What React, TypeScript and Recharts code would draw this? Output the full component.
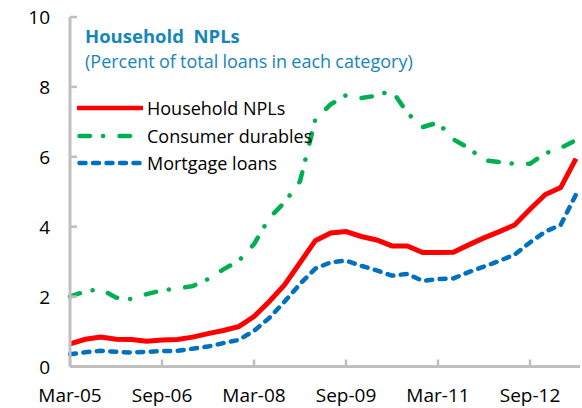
import React from 'react';
import { LineChart, Line, XAxis, YAxis, Legend } from 'recharts';

const quarters = [
  'Mar-05', 'Jun-05', 'Sep-05', 'Dec-05', 'Mar-06', 'Jun-06', 'Sep-06', 'Dec-06',
  'Mar-07', 'Jun-07', 'Sep-07', 'Dec-07', 'Mar-08', 'Jun-08', 'Sep-08', 'Dec-08',
  'Mar-09', 'Jun-09', 'Sep-09', 'Dec-09', 'Mar-10', 'Jun-10', 'Sep-10', 'Dec-10',
  'Mar-11', 'Jun-11', 'Sep-11', 'Dec-11', 'Mar-12', 'Jun-12', 'Sep-12', 'Dec-12',
  'Mar-13', 'Jun-13',
];

const householdNpls = [
  0.65, 0.78, 0.84, 0.78, 0.77, 0.72, 0.76, 0.77, 0.84, 0.94, 1.03, 1.14,
  1.43, 1.86, 2.34, 2.97, 3.6, 3.82, 3.86, 3.72, 3.62, 3.45, 3.45, 3.26,
  3.26, 3.27, 3.48, 3.68, 3.86, 4.05, 4.5, 4.92, 5.12, 5.95,
];

const consumerDurables = [
  2.0, 2.15, 2.22, 1.97, 1.93, 2.07, 2.18, 2.23, 2.3, 2.5, 2.78, 3.02,
  3.5, 4.25, 4.7, 5.3, 7.07, 7.5, 7.76, 7.68, 7.75, 7.9, 7.25, 6.85,
  6.98, 6.5, 6.25, 5.9, 5.85, 5.8, 5.8, 6.1, 6.25, 6.48,
];

const mortgageLoans = [
  0.35, 0.41, 0.45, 0.42, 0.4, 0.42, 0.44, 0.45, 0.51, 0.57, 0.67, 0.76,
  1.02, 1.39, 1.86, 2.36, 2.8, 2.98, 3.03, 2.88, 2.75, 2.6, 2.65, 2.45,
  2.5, 2.52, 2.7, 2.86, 3.02, 3.2, 3.55, 3.86, 4.05, 4.92,
];

const yTicks = [0, 2, 4, 6, 8, 10];
const seriesOrder = ['household', 'consumer', 'mortgage'];

const data = quarters.map((q, i) => ({
  q,
  household: householdNpls[i],
  consumer: consumerDurables[i],
  mortgage: mortgageLoans[i],
}));

const FONT = '"Open Sans", sans-serif';
const AXIS = '#bfbfbf';

const dashes: Record<string, string | undefined> = {
  household: undefined,
  consumer: '10.5 13 0.1 16.4',
  mortgage: '6 7.5',
};

const XTick = (props: any) => {
  const { x, y, payload } = props;
  return (
    <g>
      <line x1={x} y1={y} x2={x} y2={y - 7} stroke={AXIS} strokeWidth={2.5} />
      <text x={x} y={y + 35} textAnchor="middle" fontFamily={FONT} fontSize={19} fill="#000">
        {payload.value}
      </text>
    </g>
  );
};

const YTick = (props: any) => {
  const { x, y, payload } = props;
  return (
    <g>
      <line x1={x} y1={y} x2={x + 7} y2={y} stroke={AXIS} strokeWidth={2.5} />
      <text x={x - 20} y={y + 7} textAnchor="end" fontFamily={FONT} fontSize={19} fill="#000">
        {payload.value}
      </text>
    </g>
  );
};

const LegendBox = (props: any) => {
  const items = [...(props.payload || [])].sort(
    (a: any, b: any) => seriesOrder.indexOf(a.dataKey) - seriesOrder.indexOf(b.dataKey)
  );
  return (
    <div style={{ fontFamily: FONT, fontSize: 18, color: '#000' }}>
      {items.map((p: any) => (
        <div key={p.dataKey} style={{ display: 'flex', alignItems: 'center', height: 27.5 }}>
          <svg width={70} height={10} style={{ flex: 'none' }}>
            <line
              x1={p.dataKey === 'household' ? 0 : 2.5}
              y1={5}
              x2={p.dataKey === 'household' ? 66 : 64}
              y2={5}
              stroke={p.color}
              strokeWidth={4.5}
              strokeLinecap={p.dataKey === 'household' ? 'butt' : 'round'}
              strokeDasharray={dashes[p.dataKey]}
            />
          </svg>
          <span style={{ whiteSpace: 'nowrap' }}>{p.value}</span>
        </div>
      ))}
    </div>
  );
};

export default function App() {
  return (
    <div style={{ position: 'absolute', left: 0, top: 0, width: 582, height: 408, background: '#fff' }}>
      <LineChart width={582} height={408} data={data} margin={{ top: 17, right: 2, bottom: 11.5, left: 0 }}>
        <XAxis
          dataKey="q"
          interval={5}
          height={30}
          padding={{ left: 0, right: 4 }}
          axisLine={{ stroke: AXIS, strokeWidth: 3 }}
          tickLine={false}
          tickSize={0}
          tickMargin={0}
          tick={<XTick />}
        />
        <XAxis xAxisId="top" dataKey="q" orientation="top" height={0} tick={false} tickLine={false}
          axisLine={{ stroke: AXIS, strokeWidth: 3 }} />
        <YAxis
          domain={[0, 10]}
          ticks={yTicks}
          width={70}
          axisLine={{ stroke: AXIS, strokeWidth: 3 }}
          tickLine={false}
          tickSize={0}
          tickMargin={0}
          tick={<YTick />}
        />
        <YAxis yAxisId="right" orientation="right" width={0} domain={[0, 10]} tick={false} tickLine={false}
          axisLine={{ stroke: AXIS, strokeWidth: 3 }} />
        <Legend
          layout="horizontal"
          verticalAlign="middle"
          align="center"
          content={<LegendBox />}
          wrapperStyle={{ position: 'absolute', left: 77, top: 94.5, width: 'auto', height: 'auto' }}
        />
        <Line
          type="linear"
          dataKey="household"
          name="Household NPLs"
          stroke="#ff0000"
          strokeWidth={5}
          dot={false}
          activeDot={false}
          isAnimationActive={false}
        />
        <Line
          type="linear"
          dataKey="consumer"
          name="Consumer durables"
          stroke="#00b050"
          strokeWidth={4.5}
          strokeLinecap="round"
          strokeDasharray={dashes.consumer}
          dot={false}
          activeDot={false}
          isAnimationActive={false}
        />
        <Line
          type="linear"
          dataKey="mortgage"
          name="Mortgage loans"
          stroke="#0070c0"
          strokeWidth={4.5}
          strokeLinecap="round"
          strokeDasharray={dashes.mortgage}
          dot={false}
          activeDot={false}
          isAnimationActive={false}
        />
      </LineChart>
      <div style={{ position: 'absolute', left: 85, top: 26.5, fontFamily: FONT, color: '#1686b9', lineHeight: 1 }}>
        <div style={{ fontSize: 18.5, fontWeight: 700, whiteSpace: 'pre' }}>Household  NPLs</div>
        <div style={{ fontSize: 18, marginTop: 7, whiteSpace: 'nowrap', wordSpacing: -0.5 }}>
          (Percent of total loans in each category)
        </div>
      </div>
    </div>
  );
}
